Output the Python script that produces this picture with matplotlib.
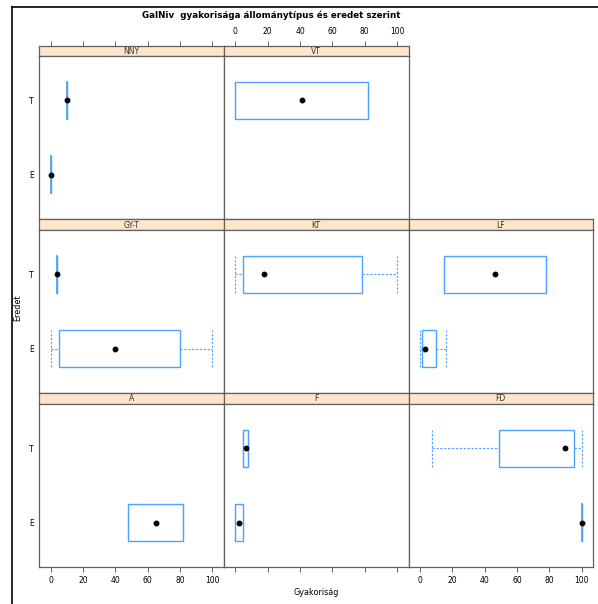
import matplotlib
matplotlib.use("Agg")
import matplotlib.pyplot as plt
from matplotlib.lines import Line2D
from matplotlib.patches import Rectangle

# ---- data ----
levels = ["E", "T"]
panel_names = ["NNY", "VT", "GY-T", "KT", "LF", "A", "F", "FD"]
group_panel = ["NNY", "NNY", "VT", "GY-T", "GY-T", "KT", "LF", "LF", "A", "F", "F", "FD", "FD"]
group_level = ["T", "E", "T", "T", "E", "T", "T", "E", "E", "T", "E", "T", "E"]
w_min = [10, 0, 0, 4, 0, 0, 15, 0, 48, 5, 0, 7.5, 100]
q1 = [10, 0, 0, 4, 5, 4.5, 15, 1.5, 48, 5, 0, 49, 100]
median = [10, 0, 41, 4, 40, 18, 46.5, 3, 65, 6.3, 2.5, 90, 100]
q3 = [10, 0, 82, 4, 80, 78, 78, 10, 82, 7.7, 4.5, 95, 100]
w_max = [10, 0, 82, 4, 100, 100, 78, 16, 82, 7.7, 4.5, 100, 100]
x_ticks = [0, 20, 40, 60, 80, 100]

title = "GalNiv  gyakorisága állománytípus és eredet szerint"
xlabel = "Gyakoriság"
ylabel = "Eredet"

# ---- layout ----
W, H = 598, 604
fig = plt.figure(figsize=(W / 100, H / 100), dpi=100)
plt.rcParams["font.family"] = ["DejaVu Sans"]

col_left = [39.3, 224.0, 408.5]
col_w = 184.5
strip_top0 = 45.5
row_step = 173.9
strip_h = 10.3
panel_h = 163.6

positions = {"NNY": (0, 0), "VT": (0, 1), "GY-T": (1, 0), "KT": (1, 1), "LF": (1, 2),
             "A": (2, 0), "F": (2, 1), "FD": (2, 2)}

def frect(x0, ytop, w, h):
    return [x0 / W, 1 - (ytop + h) / H, w / W, h / H]

border_col = "#606060"
box_col = "#4da3ff"
strip_col = "#ffe5cc"
tick_fs = 5.5
lv = {l: i + 1 for i, l in enumerate(levels)}
half = 0.25

for name in panel_names:
    r, c = positions[name]
    st = strip_top0 + r * row_step
    x0 = col_left[c]
    # strip
    sax = fig.add_axes(frect(x0, st, col_w, strip_h))
    sax.set_facecolor(strip_col)
    sax.set_xlim(-7, 107)
    sax.set_ylim(0, 1)
    sax.text(0.5, 0.45, name, transform=sax.transAxes, ha="center", va="center",
             fontsize=5.5, color="#333333")
    for s in sax.spines.values():
        s.set_color(border_col)
        s.set_linewidth(0.9)
    sax.set_yticks([])
    sax.set_xticks([])
    if r == 0:
        sax.xaxis.set_ticks_position("top")
        sax.set_xticks(x_ticks)
        sax.tick_params(axis="x", direction="out", length=3.5, width=0.6,
                        color="#444444", labelsize=tick_fs, pad=3,
                        labeltop=(c == 1), labelbottom=False, top=True, bottom=False)
    # panel
    ax = fig.add_axes(frect(x0, st + strip_h, col_w, panel_h))
    ax.set_xlim(-7, 107)
    ax.set_ylim(0.4, 2.6)
    for s in ax.spines.values():
        s.set_color(border_col)
        s.set_linewidth(0.9)
    ax.set_yticks([1, 2])
    if c == 0:
        ax.set_yticklabels(levels)
        ax.tick_params(axis="y", length=0, pad=4, labelsize=tick_fs)
    else:
        ax.set_yticklabels([])
        ax.tick_params(axis="y", length=0)
    if r == 2:
        ax.set_xticks(x_ticks)
        ax.tick_params(axis="x", direction="out", length=3.5, width=0.6,
                       color="#444444", labelsize=tick_fs, pad=3,
                       labelbottom=(c != 1))
    else:
        ax.set_xticks([])

    for i, gp in enumerate(group_panel):
        if gp != name:
            continue
        y = lv[group_level[i]]
        # whiskers (dashed) and staples
        ax.plot([w_min[i], q1[i]], [y, y], color=box_col, lw=0.8, ls=(0, (2, 1.5)))
        ax.plot([q3[i], w_max[i]], [y, y], color=box_col, lw=0.8, ls=(0, (2, 1.5)))
        for xv in (w_min[i], w_max[i]):
            ax.plot([xv, xv], [y - half, y + half], color=box_col, lw=0.8,
                    ls=(0, (2, 1.5)))
        ax.add_patch(Rectangle((q1[i], y - half), q3[i] - q1[i], 2 * half,
                               fill=False, edgecolor=box_col, lw=1.0))
        if q3[i] == q1[i]:
            ax.plot([q1[i], q1[i]], [y - half, y + half], color=box_col, lw=1.3)
        ax.plot([median[i]], [y], "o", color="black", ms=3.2)

# texts
fig.text(271 / W, 1 - 15.5 / H, title, ha="center", va="center",
         fontsize=6.3, fontweight="bold")
fig.text(316 / W, 1 - 592.5 / H, xlabel, ha="center", va="center", fontsize=5.8)
fig.text(18 / W, 1 - 308 / H, ylabel, ha="center", va="center", fontsize=5.8,
         rotation=90)

# outer frame (cropped screenshot border)
fig.add_artist(Line2D([12 / W, 12 / W], [0, 1 - 7 / H], color="black", lw=1.2,
                      transform=fig.transFigure))
fig.add_artist(Line2D([12 / W, 1], [1 - 7 / H, 1 - 7 / H], color="black", lw=1.2,
                      transform=fig.transFigure))

fig.savefig("out.png", dpi=100)
